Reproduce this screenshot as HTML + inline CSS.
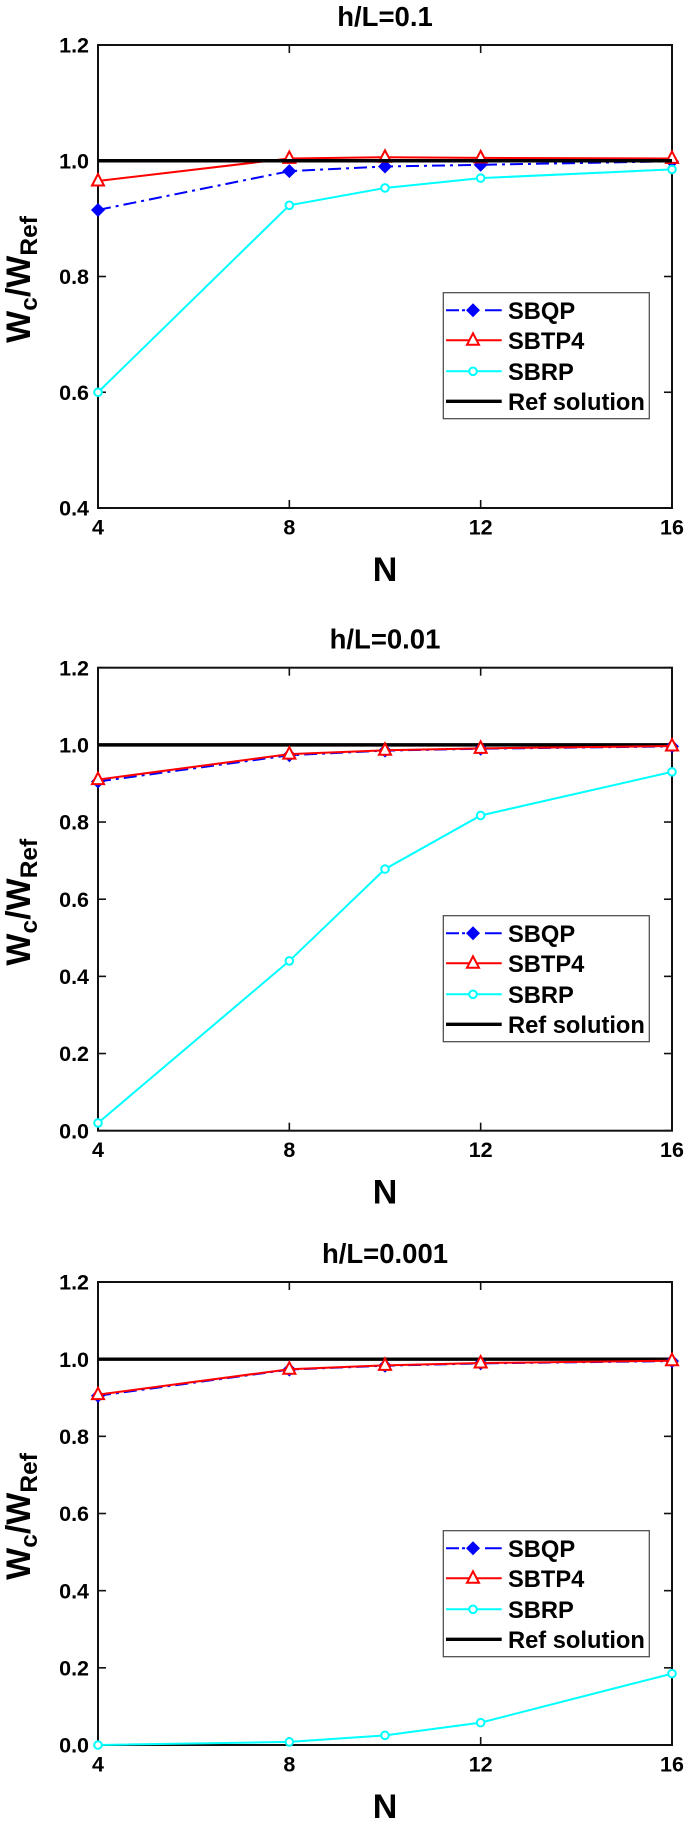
<!DOCTYPE html>
<html lang="en">
<head>
<meta charset="utf-8">
<title>Wc/WRef convergence charts</title>
<style>
html,body{margin:0;padding:0;background:#fff;width:685px;height:1831px;overflow:hidden}
svg{display:block;font-family:"Liberation Sans",Arial,sans-serif;font-weight:bold;filter:blur(0.35px)}
</style>
</head>
<body>
<svg id="chart" xmlns="http://www.w3.org/2000/svg" width="685" height="1831" viewBox="0 0 685 1831">
  <rect width="685" height="1831" fill="#fff"/>
</svg>
<script>
// ---- chart data ----
const nValues = [4, 8, 10, 12, 16];
const xTickLabels = ['4', '8', '12', '16'];
const xTickValues = [4, 8, 12, 16];
const xDomain = [4, 16];

const panelTitles = ['h/L=0.1', 'h/L=0.01', 'h/L=0.001'];

const yTicksPanel1 = ['0.4', '0.6', '0.8', '1.0', '1.2'];
const yTicksPanel2 = ['0.0', '0.2', '0.4', '0.6', '0.8', '1.0', '1.2'];
const yTicksPanel3 = ['0.0', '0.2', '0.4', '0.6', '0.8', '1.0', '1.2'];

const sbqpPanel1 = [0.915, 0.982, 0.990, 0.993, 0.999];
const sbtp4Panel1 = [0.965, 1.004, 1.006, 1.005, 1.004];
const sbrpPanel1 = [0.600, 0.923, 0.953, 0.970, 0.985];
const refPanel1 = [1, 1, 1, 1, 1];

const sbqpPanel2 = [0.905, 0.973, 0.985, 0.990, 0.996];
const sbtp4Panel2 = [0.910, 0.976, 0.986, 0.991, 0.997];
const sbrpPanel2 = [0.020, 0.440, 0.678, 0.817, 0.930];
const refPanel2 = [1, 1, 1, 1, 1];

const sbqpPanel3 = [0.905, 0.973, 0.983, 0.989, 0.995];
const sbtp4Panel3 = [0.908, 0.974, 0.984, 0.990, 0.996];
const sbrpPanel3 = [0.000, 0.008, 0.025, 0.058, 0.185];
const refPanel3 = [1, 1, 1, 1, 1];

const legendLabels = ['SBQP', 'SBTP4', 'SBRP', 'Ref solution'];

// ---- layout ----
const NS = 'http://www.w3.org/2000/svg';
const root = document.getElementById('chart');
const plotLeft = 98, plotRight = 672;
const panels = [
  {top: 45, bottom: 508, legendTop: 292.7, refOnTop: true,
   ticks: yTicksPanel1, sbqp: sbqpPanel1, sbtp4: sbtp4Panel1, sbrp: sbrpPanel1, ref: refPanel1},
  {top: 667.7, bottom: 1130.7, legendTop: 915.7, refOnTop: false,
   ticks: yTicksPanel2, sbqp: sbqpPanel2, sbtp4: sbtp4Panel2, sbrp: sbrpPanel2, ref: refPanel2},
  {top: 1282, bottom: 1745, legendTop: 1530.7, refOnTop: false,
   ticks: yTicksPanel3, sbqp: sbqpPanel3, sbtp4: sbtp4Panel3, sbrp: sbrpPanel3, ref: refPanel3}
];

function make(tag, attrs, parent, text) {
  const el = document.createElementNS(NS, tag);
  for (const k in attrs) el.setAttribute(k, attrs[k]);
  if (text !== undefined) el.textContent = text;
  parent.appendChild(el);
  return el;
}
function xScale(n) {
  return plotLeft + (n - xDomain[0]) / (xDomain[1] - xDomain[0]) * (plotRight - plotLeft);
}
function makeYScale(panel) {
  const lo = parseFloat(panel.ticks[0]);
  const hi = parseFloat(panel.ticks[panel.ticks.length - 1]);
  return v => panel.bottom - (v - lo) / (hi - lo) * (panel.bottom - panel.top);
}
function diamond(parent, cx, cy) {
  const r = 7;
  const m = make('polygon', {points: [cx, cy - r, cx + r, cy, cx, cy + r, cx - r, cy].join(' '), fill: '#0000ff'}, parent);
  
  
}
function triangle(parent, cx, cy) {
  const m = make('polygon', {points: [cx, cy - 7, cx + 6, cy + 4.5, cx - 6, cy + 4.5].join(' '), fill: '#fff', stroke: '#ff0000', 'stroke-width': 2}, parent);
  
  
}
function circle(parent, cx, cy) {
  const m = make('circle', {cx: cx, cy: cy, r: 3.8, fill: '#fff', stroke: '#00ffff', 'stroke-width': 2}, parent);
  
  
}
function pathFrom(values, y) {
  return values.map((v, i) => (i ? 'L' : 'M') + xScale(nValues[i]).toFixed(2) + ' ' + y(v).toFixed(2)).join(' ');
}
function drawRef(g, panel, y) {
  const p = make('path', {d: pathFrom(panel.ref, y), fill: 'none', stroke: '#000', 'stroke-width': 3.4}, g);
  
  
}

panels.forEach((panel, idx) => {
  const y = makeYScale(panel);
  const g = make('g', {}, root);
  
  
  const midX = (plotLeft + plotRight) / 2;

  // title
  const title = make('text', {x: midX, y: panel.top - 19, 'text-anchor': 'middle', 'font-size': 27.5}, g, panelTitles[idx]);
  
  

  // axes frame
  const frame = make('rect', {x: plotLeft, y: panel.top, width: plotRight - plotLeft, height: panel.bottom - panel.top, fill: 'none', stroke: '#111', 'stroke-width': 2}, g);
  
  

  // x ticks
  xTickValues.forEach((t, i) => {
    const px = xScale(t);
    if (i > 0 && i < xTickValues.length - 1) {
      const tickB = make('line', {x1: px, x2: px, y1: panel.bottom, y2: panel.bottom - 8, stroke: '#111', 'stroke-width': 1.6}, g);
      
      
      const tickT = make('line', {x1: px, x2: px, y1: panel.top, y2: panel.top + 8, stroke: '#111', 'stroke-width': 1.6}, g);
      
      
    }
    const lab = make('text', {x: px, y: panel.bottom + 26.3, 'text-anchor': 'middle', 'font-size': 21.5}, g, xTickLabels[i]);
    
    
  });

  // y ticks
  panel.ticks.forEach(label => {
    const py = y(parseFloat(label));
    const tickL = make('line', {x1: plotLeft, x2: plotLeft + 8, y1: py, y2: py, stroke: '#111', 'stroke-width': 1.6}, g);
    
    
    const tickR = make('line', {x1: plotRight, x2: plotRight - 8, y1: py, y2: py, stroke: '#111', 'stroke-width': 1.6}, g);
    
    
    const lab = make('text', {x: 89, y: py + 7.6, 'text-anchor': 'end', 'font-size': 21.5}, g, label);
    
    
  });

  // axis titles
  const xt = make('text', {x: midX, y: panel.bottom + 73, 'text-anchor': 'middle', 'font-size': 34}, g, 'N');
  
  

  const cy = (panel.top + panel.bottom) / 2 + 3;
  const yt = make('text', {transform: 'translate(30 ' + cy + ') rotate(-90)', 'text-anchor': 'middle', 'font-size': 34}, g);
  
  
  make('tspan', {}, yt, 'W');
  make('tspan', {dy: 7, 'font-size': 24.5}, yt, 'c');
  make('tspan', {dy: -7}, yt, '/W');
  make('tspan', {dy: 7, 'font-size': 24.5}, yt, 'Ref');

  // series
  if (!panel.refOnTop) drawRef(g, panel, y);

  const blue = make('path', {d: pathFrom(panel.sbqp, y), fill: 'none', stroke: '#0000ff', 'stroke-width': 2, 'stroke-dasharray': '13 5 3 5'}, g);
  
  
  panel.sbqp.forEach((v, i) => diamond(g, xScale(nValues[i]), y(v)));

  const cyan = make('path', {d: pathFrom(panel.sbrp, y), fill: 'none', stroke: '#00ffff', 'stroke-width': 2}, g);
  
  
  panel.sbrp.forEach((v, i) => circle(g, xScale(nValues[i]), y(v)));

  const red = make('path', {d: pathFrom(panel.sbtp4, y), fill: 'none', stroke: '#ff0000', 'stroke-width': 2}, g);
  
  
  panel.sbtp4.forEach((v, i) => triangle(g, xScale(nValues[i]), y(v)));

  if (panel.refOnTop) drawRef(g, panel, y);

  // legend
  const lg = make('g', {}, g);
  
  
  const box = make('rect', {x: 443.3, y: panel.legendTop, width: 206, height: 126, fill: '#fff', stroke: '#444', 'stroke-width': 1.2}, lg);
  
  
  const rows = [17.6, 47.6, 78.6, 108.6];
  legendLabels.forEach((label, i) => {
    const ry = panel.legendTop + rows[i];
    const styles = [
      {stroke: '#0000ff', 'stroke-width': 2, 'stroke-dasharray': '13 3 3 20 17'},
      {stroke: '#ff0000', 'stroke-width': 2},
      {stroke: '#00ffff', 'stroke-width': 2},
      {stroke: '#000', 'stroke-width': 3.4}
    ];
    const ln = make('line', Object.assign({x1: 446, x2: 501.7, y1: ry, y2: ry}, styles[i]), lg);
    
    
    if (i === 0) diamond(lg, 473, ry);
    if (i === 1) triangle(lg, 473, ry);
    if (i === 2) circle(lg, 473, ry);
    const tx = make('text', {x: 508, y: ry + 8.5, 'font-size': 23.7}, lg, label);
    
    
  });
});
</script>
</body>
</html>
